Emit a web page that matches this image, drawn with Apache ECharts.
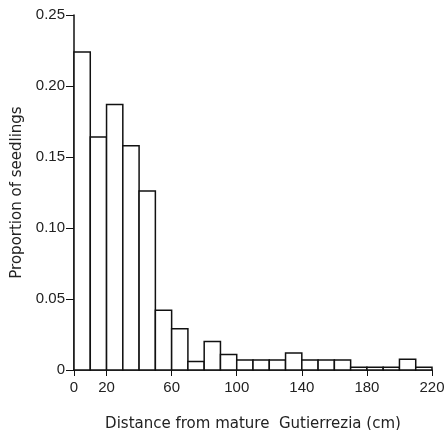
<!DOCTYPE html>
<html>
<head>
    <meta charset="utf-8">
    <title>Seedling distance histogram</title>
    <script src="https://cdn.jsdelivr.net/npm/echarts@6.0.0/dist/echarts.min.js"></script>
    <style>
        html, body { margin: 0; padding: 0; background: #fff; }
    </style>
</head>
<body>
<div id="main" style="width: 445px;height:430px;"></div>
<script type="text/javascript">
        // bin edges (cm) and proportion of seedlings per bin
        var binStart = [0, 10, 20, 30, 40, 50, 60, 70, 80, 90, 100, 110, 120, 130, 140, 150, 160, 170, 180, 190, 200, 210];
        var binWidth = 10;
        var proportion = [0.224, 0.164, 0.187, 0.158, 0.126, 0.042, 0.029, 0.006, 0.020, 0.011, 0.007, 0.007, 0.007, 0.012, 0.007, 0.007, 0.007, 0.002, 0.002, 0.002, 0.0075, 0.002];
        var xTicks = [0, 20, 60, 100, 140, 180, 220];

        var font = 'Liberation Sans';
        var titleFont = 'DejaVu Sans';
        var data = binStart.map(function (s, i) {
            return [s, s + binWidth, proportion[i]];
        });

        var myChart = echarts.init(document.getElementById('main'));

        var option = {
            animation: false,
            grid: { left: 74, right: 13, top: 15, bottom: 60, outerBoundsMode: 'none' },
            xAxis: {
                type: 'value',
                min: 0,
                max: 220,
                name: 'Distance from mature  Gutierrezia (cm)',
                nameLocation: 'middle',
                nameGap: 47,
                nameTextStyle: { fontFamily: titleFont, fontSize: 15, color: '#222' },
                splitLine: { show: false },
                axisLine: { lineStyle: { color: '#111', width: 1.5 } },
                axisTick: { length: 6, lineStyle: { color: '#111' }, customValues: xTicks },
                axisLabel: { fontFamily: font, fontSize: 15, color: '#222', margin: 10, customValues: xTicks }
            },
            yAxis: {
                type: 'value',
                min: 0,
                max: 0.25,
                interval: 0.05,
                name: 'Proportion of seedlings',
                nameLocation: 'middle',
                nameGap: 49,
                nameTextStyle: { fontFamily: titleFont, fontSize: 15, color: '#222' },
                splitLine: { show: false },
                axisLine: { show: true, lineStyle: { color: '#111', width: 1.5 } },
                axisTick: { show: true, length: 8, lineStyle: { color: '#111' } },
                axisLabel: {
                    fontFamily: font, fontSize: 15, color: '#222', margin: 9,
                    formatter: function (v) { return v === 0 ? '0' : v.toFixed(2); }
                }
            },
            series: [{
                type: 'custom',
                data: data,
                encode: { x: [0, 1], y: 2 },
                renderItem: function (params, api) {
                    var p0 = api.coord([api.value(0), 0]);
                    var p1 = api.coord([api.value(1), api.value(2)]);
                    return {
                        type: 'rect',
                        shape: { x: p0[0], y: p1[1], width: p1[0] - p0[0], height: p0[1] - p1[1] },
                        style: { fill: '#fff', stroke: '#111', lineWidth: 1.5 }
                    };
                }
            }]
        };

        myChart.setOption(option);
    </script>
</body>
</html>
